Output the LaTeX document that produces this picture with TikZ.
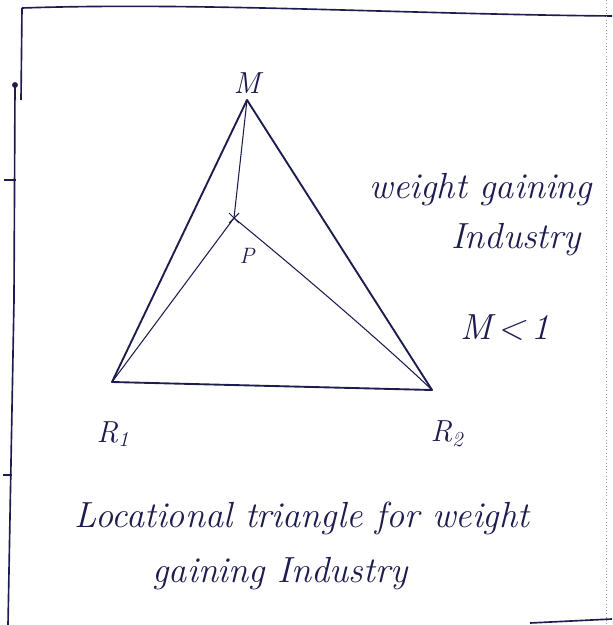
\documentclass[tikz,border=0pt]{standalone}
\usepackage{fontspec}
\usetikzlibrary{positioning}
\definecolor{ink}{RGB}{28,28,78}
\definecolor{pencil}{RGB}{150,150,150}

\begin{document}
\begin{tikzpicture}[
  x=0.03cm, y=-0.03cm,
  node distance=4pt and 4pt,
  side/.style={draw=ink, line width=1.6pt, line join=round},
  inner/.style={draw=ink, line width=0.9pt},
  frame/.style={draw=ink, line width=1.4pt},
  lbl/.style={text=ink, inner sep=1pt, font=\fontsize{26}{30}\selectfont\itshape},
  note/.style={text=ink, inner sep=1pt, font=\fontsize{31}{36}\selectfont\itshape}
]
\useasboundingbox (0,0) rectangle (612,625);
% page edges
\draw[frame] (22,8) .. controls (200,2) and (400,14) .. (612,16);
\draw[frame] (22,8) -- (21,100);
\draw[frame] (15,85) -- (14,300) -- (8,625);
\fill[ink] (15,85) circle (2.5pt);
\draw[frame] (4,180) -- (16,180);
\draw[frame] (3,475) -- (12,475);
\draw[pencil, line width=0.8pt, dotted] (606,0) -- (606,625);
\draw[frame] (530,623) -- (612,619);

% the triangle
\coordinate (M) at (247,100);
\coordinate (R1) at (112,382);
\coordinate (R2) at (432,390);
\coordinate (P) at (234,218);
\draw[side] (M) -- (R1) -- (R2) -- cycle;
\draw[inner] (M) -- (P);
\draw[inner] (P) -- (R1);
\draw[inner] (P) .. controls (300,272) and (385,345) .. (R2);
\draw[ink, line width=0.9pt] (229,213) -- (239,223) (229,223) -- (239,213);

\node[lbl, above=of M] (lM) {M};
\node[lbl, font=\fontsize{19}{22}\selectfont\itshape] (lP) at (247,256) {P};
\node[lbl] (lR1) at (113,434) {R\textsubscript{1}};
\node[lbl] (lR2) at (447,434) {R\textsubscript{2}};

% notes
\node[note] (wg) at (481,190) {weight gaining};
\node[note] (ind) at (516,240) {Industry};
\node[note] (cond) at (505,328) {M\,<\,1};
\node[note] (cap1) at (302,518) {Locational triangle for weight};
\node[note] (cap2) at (280,574) {gaining Industry};
\end{tikzpicture}
\end{document}
